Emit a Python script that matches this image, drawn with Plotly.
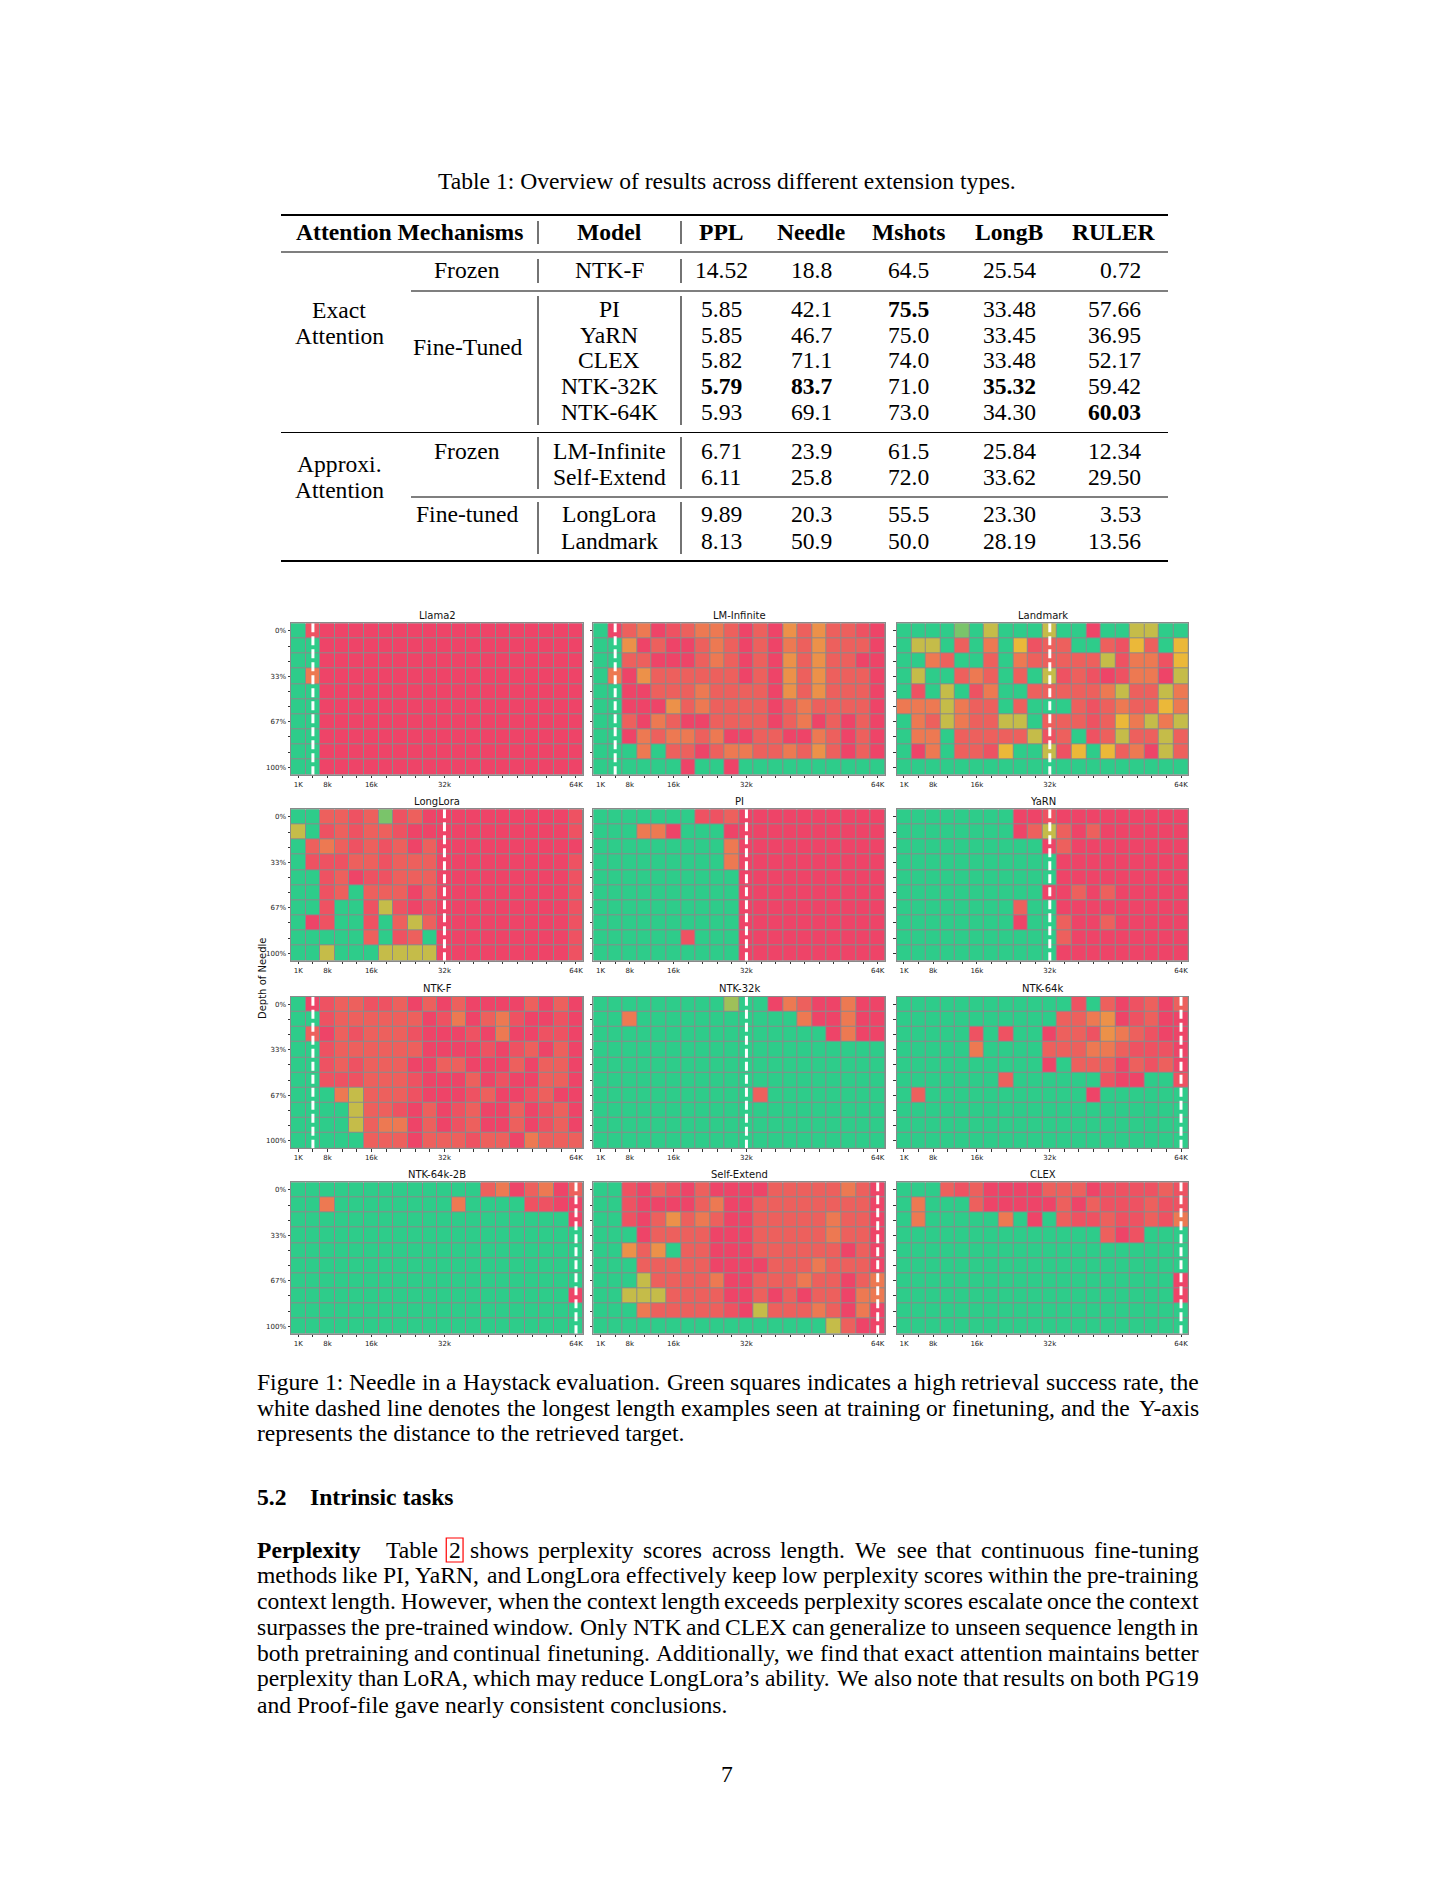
import plotly.graph_objects as go

W, H = 1456, 1884
OX, OY = 8, 8          # browser body margin
SERIF = "Liberation Serif"
SANS = "DejaVu Sans"
FS = 23.6

# ---------------- Table data ----------------
table_title = "Table 1: Overview of results across different extension types."
headers = ["Attention Mechanisms", "Model", "PPL", "Needle", "Mshots", "LongB", "RULER"]
models = ["NTK-F", "PI", "YaRN", "CLEX", "NTK-32K", "NTK-64K",
          "LM-Infinite", "Self-Extend", "LongLora", "Landmark"]
ppl = [14.52, 5.85, 5.85, 5.82, 5.79, 5.93, 6.71, 6.11, 9.89, 8.13]
needle = [18.8, 42.1, 46.7, 71.1, 83.7, 69.1, 23.9, 25.8, 20.3, 50.9]
mshots = [64.5, 75.5, 75.0, 74.0, 71.0, 73.0, 61.5, 72.0, 55.5, 50.0]
longb = [25.54, 33.48, 33.45, 33.48, 35.32, 34.30, 25.84, 33.62, 23.30, 28.19]
ruler = [0.72, 57.66, 36.95, 52.17, 59.42, 60.03, 12.34, 29.50, 3.53, 13.56]
best_idx = {"PPL": 4, "Needle": 4, "Mshots": 1, "LongB": 4, "RULER": 5}

# ---------------- Heatmap data (10 depths x 20 lengths) ----------------
# score codes: R crimson(0) ... G green(10)
score_codes = {"R": 0, "r": 0.6, "s": 1.2, "o": 2.3, "A": 3.3, "Y": 5, "O": 6, "P": 7, "L": 8, "G": 10}
x_tick_labels = {0: "1K", 2: "8k", 5: "16k", 10: "32k", 19: "64K"}
y_tick_labels = {0: "0%", 3: "33%", 6: "67%", 9: "100%"}

llama2 = ["GrRRR RRRRR RRRRR RRRRR", "GGRRR RRRRR RRRRR RRRRR", "GGRRR RRRRR RRRRR RRRRR",
          "GoRRR RRRRR RRRRR RRRRR", "GGRRR RRRRR RRRRR RRRRR", "GGRRR RRRRR RRRRR RRRRR",
          "GGRRR RRRRR RRRRR RRRRR", "GGRRR RRRRR RRRRR RRRRR", "GGRRR RRRRR RRRRR RRRRR",
          "GGRRR RRRRR RRRRR RRRRR"]
lm_infinite = ["GRsoR rsoos RsRAs AssrR", "GGARs RRsos RsRos AsssR", "GGssR RRsos RsRAs AssRR",
               "GoRAs sssss RsRAs AsssR", "GGRRs ssoss ssRAs AsssR", "GGRRR Asoss ssRso ssssR",
               "GGsRo sRRss ssRso RsRsR", "GGRos oosoR RssRR osRsR", "GGGoG ssRso ossos AsRsR",
               "GGGGG GRGGR GGGGG GGGGG"]
landmark = ["GGGGL GOGGG OGGRG GOOGG", "GOOGs GoGYr ssGGs rYsGY", "GGosG GsGos ssssO roorY",
            "GOGGs osGsG OrsrR rooRO", "GrGOG roGGs sssso OssOo", "oooOo ssGsG GGsrs ossYo",
            "GosOo ssOOG sssrs YoOoO", "GooGs ssssO rsGrs OssOs", "GRoGs srYGG OrYGY soROs",
            "GGGGG GGGGG GGGGG GGGGG"]
longlora = ["GGssr sLrsR RRRRR RRRRr", "OGrsr ssrRR RRRRR RRRRr", "Gsosr srsRs RRRRR RRRRR",
            "Grrrs srsss RRRRR RRRRr", "GGrsR rrsss RRRRR RRRRr", "GGrsG sssRs RRRRR RRRRr",
            "GGrGG rOrRr RRRRR RRRRr", "GRrGG rGsOs RRRRR RRRRr", "GGGGG sGrsG RRRRR RRRRr",
            "GGOGG GOOOO RRRRR RRRRr"]
pi = ["GGGGG GGrrs RRRRR RRRRR", "GGGoo RGGGR RRRRR RRRRR", "GGGGG GGGGo RRRRR RRRRR",
      "GGGGG GGGGo RRRRR RRRRR", "GGGGG GGGGG RRRRR RRRRR", "GGGGG GGGGG RRRRR RRRRR",
      "GGGGG GGGGG RRRRR RRRRR", "GGGGG GGGGG RRRRR RRRRR", "GGGGG GrGGG RRRRR RRRRR",
      "GGGGG GGGGG RRRRR RRRRR"]
yarn = ["GGGGG GGGRR rRRRR RRRRR", "GGGGG GGGRs OsRsR RRRRR", "GGGGG GGGGG RsRRR RRRRR",
        "GGGGG GGGGG GRRRR RRRRR", "GGGGG GGGGG GRRRR RRRRR", "GGGGG GGGGG RRsRs RRRRR",
        "GGGGG GGGsG GRRRR RRRRR", "GGGGG GGGRG GsRRs RRRRR", "GGGGG GGGGG GsRRR RRRRR",
        "GGGGG GGGGG GRRRR RRRRR"]
ntk_f = ["GRrss rrsRs RsRRR RsRsR", "GGrss ssssR roRso rRRrR", "GsRsr sssrR RRrRo RRrrR",
         "GGrss ssssR RRRrR rsRsR", "GGrsr sssRR ssRRR sRssR", "GGrrr sssrR RRsRr RRssR",
         "GGGoO sssrR RRrsR RrsRR", "GGGGO ssrRs RrsRR sRrsR", "GGGGO sooRs RrsRR sRrsR",
         "GGGGG sssRs ssrss Rosss"]
ntk_32k = ["GGGGG GGGGP GGRos RRoRR", "GGoGG GGGGG GGGGo RRoRR", "GGGGG GGGGG GGGGG GRoRR",
           "GGGGG GGGGG GGGGG GGGGG", "GGGGG GGGGG GGGGG GGGGG", "GGGGG GGGGG GGGGG GGGGG",
           "GGGGG GGGGG GsGGG GGGGG", "GGGGG GGGGG GGGGG GGGGG", "GGGGG GGGGG GGGGG GGGGG",
           "GGGGG GGGGG GGGGG GGGGG"]
ntk_64k = ["GGGGG GGGGG GGrGs RrsRs", "GGGGG GGGGG GssoA RrsRR", "GGGGG rGrGG RssrA osrRR",
           "GGGGG oGGGG sssoo srrrR", "GGGGG GGGGG RGsss RsrsR", "GGGGG GGsGG GGGGr RRGGr",
           "GsGGG GGGGG GGGRG GGGGG", "GGGGG GGGGG GGGGG GGGGG", "GGGGG GGGGG GGGGG GGGGG",
           "GGGGG GGGGG GGGGG GGGGG"]
ntk_64k_2b = ["GGGGG GGGGG GGGso RsoRs", "GGoGG GGGGG GoGGG GrrRR", "GGGGG GGGGG GGGGG GGGGR",
              "GGGGG GGGGG GGGGG GGGGG", "GGGGG GGGGG GGGGG GGGGG", "GGGGG GGGGG GGGGG GGGGG",
              "GGGGG GGGGG GGGGG GGGGG", "GGGGG GGGGG GGGGG GGGGR", "GGGGG GGGGG GGGGG GGGGG",
              "GGGGG GGGGG GGGGG GGGGG"]
self_extend = ["GGrRs rRsRR RRsss ssosR", "GGrRR RRsoR Rssss ssssR", "GGrRs AsosR Rssss sossR",
               "GGGRs sssRR Rssss sossR", "GGAsA GssRR Rssss ssRsR", "GGGss sssRR RRsss osssR",
               "GGGOs sssoR Rssso ssRso", "GGOOO ssssR RsRsR ssRoo", "GGGos ssssr ROsss osRoR",
               "GGGGG GGGGG GGGGG GOsRR"]
clex = ["GGGsr sRRRR sssRr rrrsr", "GoGGG sRRRR RsRsr rrsrr", "GoGGG GGoGR Gsrrs rrsro",
        "GGGGG GGGGG GGGGs RrGGG", "GGGGG GGGGG GGGGG GGGGG", "GGGGG GGGGG GGGGG GGGGG",
        "GGGGG GGGGG GGGGG GGGGR", "GGGGG GGGGG GGGGG GGGGR", "GGGGG GGGGG GGGGG GGGGG",
        "GGGGG GGGGG GGGGG GGGGG"]

panel_names = ["Llama2", "LM-Infinite", "Landmark", "LongLora", "PI", "YaRN",
               "NTK-F", "NTK-32k", "NTK-64k", "NTK-64k-2B", "Self-Extend", "CLEX"]
panel_grids = [llama2, lm_infinite, landmark, longlora, pi, yarn,
               ntk_f, ntk_32k, ntk_64k, ntk_64k_2b, self_extend, clex]
train_len_col = [1, 1, 10, 10, 10, 10, 1, 10, 19, 19, 19, 19]

caption_lines = [
    "Figure 1: Needle in a Haystack evaluation. Green squares indicates a high retrieval success rate, the",
    "white dashed line denotes the longest length examples seen at training or finetuning, and the Y-axis",
    "represents the distance to the retrieved target.",
]
para_first = "Table 2 shows perplexity scores across length. We see that continuous fine-tuning"
para_lines = [
    "methods like PI, YaRN, and LongLora effectively keep low perplexity scores within the pre-training",
    "context length. However, when the context length exceeds perplexity scores escalate once the context",
    "surpasses the pre-trained window. Only NTK and CLEX can generalize to unseen sequence length in",
    "both pretraining and continual finetuning. Additionally, we find that exact attention maintains better",
    "perplexity than LoRA, which may reduce LongLora\u2019s ability. We also note that results on both PG19",
    "and Proof-file gave nearly consistent conclusions.",
]

# Times / Liberation Serif advance widths (per 1000 em) used to justify lines
_TW = {" ": 250, "!": 333, "%": 833, "'": 333, "\u2019": 333, "(": 333, ")": 333, ",": 250,
       "-": 333, ".": 250, "/": 278, ":": 278, ";": 278, "?": 444,
       "A": 722, "B": 667, "C": 667, "D": 722, "E": 611, "F": 556, "G": 722, "H": 722, "I": 333,
       "J": 389, "K": 722, "L": 611, "M": 889, "N": 722, "O": 722, "P": 556, "Q": 722, "R": 667,
       "S": 556, "T": 611, "U": 722, "V": 722, "W": 944, "X": 722, "Y": 722, "Z": 611,
       "a": 444, "b": 500, "c": 444, "d": 500, "e": 444, "f": 333, "g": 500, "h": 500, "i": 278,
       "j": 278, "k": 500, "l": 278, "m": 778, "n": 500, "o": 500, "p": 500, "q": 500, "r": 333,
       "s": 389, "t": 278, "u": 500, "v": 500, "w": 722, "x": 500, "y": 500, "z": 444}


def text_w(s, size=FS):
    return sum(_TW.get(ch, 500) for ch in s) * size / 1000.0


def decode(grid):
    rows = []
    for line in grid:
        s = line.replace(" ", "")
        assert len(s) == 20, (line, len(s))
        rows.append([score_codes[ch] for ch in s])
    assert len(rows) == 10
    return rows


def px(x):
    return (x - OX) / (W - OX)


def py(y):
    return 1 - (y - OY) / (H - OY)


fig = go.Figure()
annotations = []
shapes = []


def ann(text, x, y, anchor="left", size=FS, family=SERIF, color="black", angle=0):
    annotations.append(dict(text=text, x=px(x), y=py(y), xref="paper", yref="paper",
                            xanchor=anchor, yanchor="middle", showarrow=False,
                            textangle=angle, borderpad=0, borderwidth=0,
                            font=dict(family=family, size=size, color=color)))


def hline(y, x0, x1, w):
    shapes.append(dict(type="line", xref="paper", yref="paper", x0=px(x0), x1=px(x1),
                       y0=py(y), y1=py(y), line=dict(color="black", width=w)))


def vline(x, y0, y1, w=1.1):
    shapes.append(dict(type="line", xref="paper", yref="paper", x0=px(x), x1=px(x),
                       y0=py(y0), y1=py(y1), line=dict(color="black", width=w)))


def justify(line, y, x0=257, x1=1199):
    words = line.split(" ")
    widths = [text_w(w) for w in words]
    gap = (x1 - x0 - sum(widths)) / (len(words) - 1)
    xs = []
    x = x0
    for i, (w, wd) in enumerate(zip(words, widths)):
        if i == len(words) - 1:
            ann(w, x1, y, "right")
            xs.append(x1 - wd)
        else:
            ann(w, x, y, "left")
            xs.append(x)
        x += wd + gap
    return words, xs


# ---------------- Table ----------------
ann(table_title, 727, 181, "center")
hline(215, 281, 1168, 1.9)
hline(252, 281, 1168, 1.2)
hline(291, 411, 1168, 1.2)
hline(432.5, 281, 1168, 1.2)
hline(497, 411, 1168, 1.2)
hline(561, 281, 1168, 1.9)

header_x = [409, 609, 721, 811, 909, 1009, 1114]
for h, x in zip(headers, header_x):
    ann("<b>%s</b>" % h, x, 232, "center")

for (ya, yb) in [(221, 244), (259, 283), (296, 425), (437, 489), (502, 554)]:
    vline(538, ya, yb)
    vline(681, ya, yb)

row_y = [270, 309, 334.5, 360, 386, 412, 450.5, 477, 514, 541]
ann("Frozen", 467, 270, "center")
ann("Exact", 339, 310, "center")
ann("Attention", 339, 336, "center")
ann("Fine-Tuned", 467, 347, "center")
ann("Frozen", 467, 450.5, "center")
ann("Approxi.", 339, 464, "center")
ann("Attention", 339, 490, "center")
ann("Fine-tuned", 467, 514, "center")

metric_cols = [("PPL", ppl, "%.2f", 721, "center"),
               ("Needle", needle, "%.1f", 811, "center"),
               ("Mshots", mshots, "%.1f", 909, "center"),
               ("LongB", longb, "%.2f", 1009, "center"),
               ("RULER", ruler, "%.2f", 1141, "right")]
for i, m in enumerate(models):
    ann(m, 609, row_y[i], "center")
    for key, vals, fmt, x, anc in metric_cols:
        t = fmt % vals[i]
        if best_idx[key] == i:
            t = "<b>%s</b>" % t
        ann(t, x, row_y[i], anc)

# ---------------- Heatmaps ----------------
col_x = [(291, 583.3), (593.3, 885), (896.7, 1188.3)]
row_top = [623.3, 809.3, 996.7, 1182.3]
panel_h = 151.5
colorscale = [[0.0, "#EE4468"], [0.5, "#EBB839"], [1.0, "#2ECC8A"]]
grid_grey = "#8a8a8a"

for i, (name, grid, tl) in enumerate(zip(panel_names, panel_grids, train_len_col)):
    r, c = divmod(i, 3)
    sfx = "" if i == 0 else str(i + 1)
    x0, x1 = col_x[c]
    yt = row_top[r]
    yb = yt + panel_h
    fig.add_trace(go.Heatmap(z=decode(grid), x=list(range(20)), y=list(range(10)),
                             xaxis="x" + sfx, yaxis="y" + sfx,
                             colorscale=colorscale, zmin=0, zmax=10, showscale=False,
                             xgap=1, ygap=1, hoverinfo="skip"))
    fig.update_layout(**{
        "xaxis" + sfx: dict(domain=[px(x0), px(x1)], anchor="y" + sfx, range=[-0.5, 19.5],
                            tickmode="array", tickvals=list(range(20)),
                            ticktext=[x_tick_labels.get(k, "") for k in range(20)],
                            ticks="outside", ticklen=2.5, tickwidth=0.7, tickcolor="#333",
                            tickfont=dict(family=SANS, size=7, color="#222"),
                            showgrid=False, zeroline=False, showline=True, mirror=True,
                            linecolor=grid_grey, linewidth=1, fixedrange=True),
        "yaxis" + sfx: dict(domain=[py(yb), py(yt)], anchor="x" + sfx, range=[9.5, -0.5],
                            tickmode="array", tickvals=list(range(10)),
                            ticktext=[(y_tick_labels.get(k, "") if c == 0 else "") for k in range(10)],
                            ticks="outside", ticklen=2.5, tickwidth=0.7, tickcolor="#333",
                            tickfont=dict(family=SANS, size=7, color="#222"),
                            showgrid=False, zeroline=False, showline=True, mirror=True,
                            linecolor=grid_grey, linewidth=1, fixedrange=True),
    })
    shapes.append(dict(type="line", xref="x" + sfx, yref="y" + sfx, x0=tl, x1=tl,
                       y0=-0.5, y1=9.5, line=dict(color="white", width=3, dash="9px,4px")))
    ann(name, (x0 + x1) / 2, yt - 8, "center", size=10, family=SANS, color="#111")

ann("Depth of Needle", 262, 978, "center", size=10, family=SANS, color="#111", angle=-90)

# ---------------- Caption and text ----------------
justify(caption_lines[0], 1381.5)
justify(caption_lines[1], 1408)
ann(caption_lines[2], 257, 1433, "left")

ann("<b>5.2</b>", 257, 1497, "left")
ann("<b>Intrinsic tasks</b>", 310, 1497, "left")

ann("<b>Perplexity</b>", 257, 1550, "left")
words, xs = justify(para_first, 1550, x0=385.6)
k = words.index("2")
bx0 = xs[k] - 2.5
bx1 = xs[k] + text_w("2") + 2.5
shapes.append(dict(type="rect", xref="paper", yref="paper", x0=px(bx0), x1=px(bx1),
                   y0=py(1562), y1=py(1538), line=dict(color="red", width=1.2)))

para_y = [1575, 1601, 1626.6, 1653, 1678, 1704.6]
for line, y in zip(para_lines[:-1], para_y[:-1]):
    justify(line, y)
ann(para_lines[-1], 257, para_y[-1], "left")

ann("7", 727, 1774, "center")

fig.update_layout(width=W - OX, height=H - OY, margin=dict(l=0, r=0, t=0, b=0),
                  paper_bgcolor="white", plot_bgcolor=grid_grey,
                  showlegend=False, annotations=annotations, shapes=shapes)

fig.write_html("out.html")
